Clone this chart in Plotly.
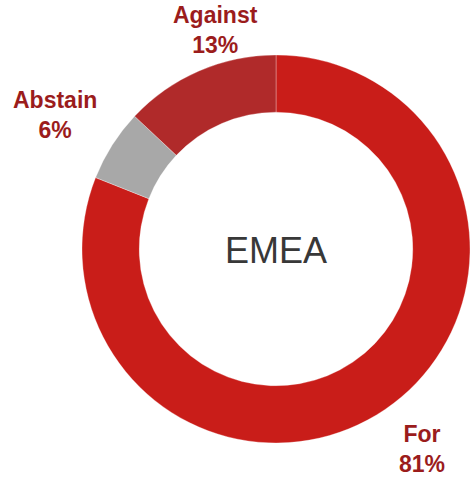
import plotly.graph_objects as go

categories = ["For", "Abstain", "Against"]
values = [81, 6, 13]
colors = ["#c91d19", "#a8a8a8", "#b02a2a"]
center_label = "EMEA"

fig = go.Figure()
fig.add_trace(go.Pie(
    labels=categories,
    values=values,
    hole=0.705,
    sort=False,
    direction="clockwise",
    rotation=0,
    marker=dict(colors=colors, line=dict(color="rgba(255,255,255,0.5)", width=0.6)),
    textinfo="none",
    hoverinfo="label+percent",
    showlegend=False,
    domain=dict(x=[82/470, 1.0], y=[(477-443)/477, (477-55)/477]),
))

label_font = dict(family="Liberation Sans, Arial, sans-serif", size=23, color="#9b1c1c")
pos = {"Against": (215, 30), "Abstain": (55, 115), "For": (422, 449)}
total = sum(values)
for cat, v in zip(categories, values):
    x, y = pos[cat]
    fig.add_annotation(
        x=x/470, y=1 - y/477, xref="paper", yref="paper",
        text=f"<b>{cat}<br>{round(100*v/total)}%</b>",
        showarrow=False, font=label_font, align="center",
        xanchor="center", yanchor="middle",
    )

fig.add_annotation(
    x=276/470, y=1 - 250/477, xref="paper", yref="paper",
    text=center_label, showarrow=False,
    font=dict(family="Liberation Sans, Arial, sans-serif", size=36, color="#383838"),
    xanchor="center", yanchor="middle",
)

fig.update_layout(
    width=470, height=477,
    margin=dict(l=0, r=0, t=0, b=0),
    paper_bgcolor="white", plot_bgcolor="white",
)
fig.write_html(
    "out.html",
    config={"displayModeBar": False},
    post_script="document.body.style.margin='0';document.body.style.overflow='hidden';",
)
